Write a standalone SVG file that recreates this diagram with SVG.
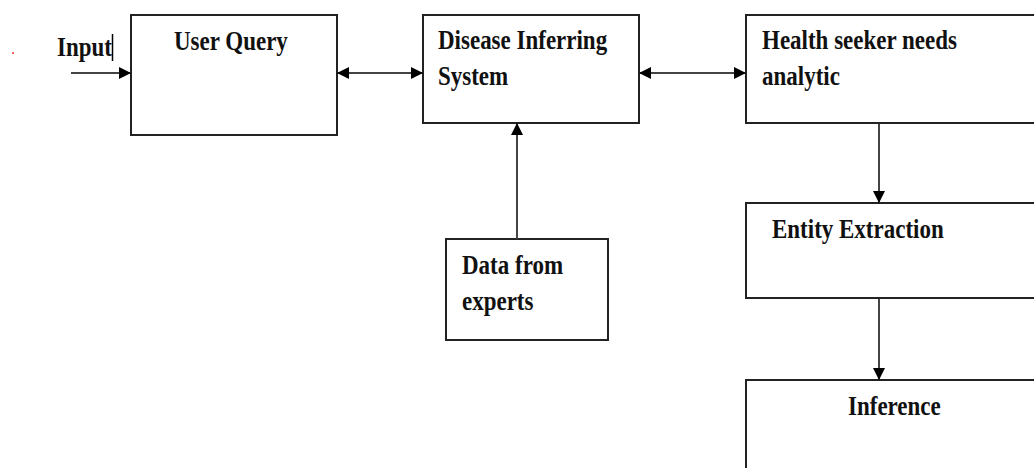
<svg xmlns="http://www.w3.org/2000/svg" width="1034" height="468" viewBox="0 0 1034 468">
<defs>
<style>
.box{fill:#fff;stroke:#222;stroke-width:2}
.t{font-family:"Liberation Serif","Times New Roman",serif;font-weight:bold;font-size:23px;fill:#111}
.c{stroke:#444;stroke-width:2;fill:none}
</style>
<marker id="ah" markerWidth="12" markerHeight="12" viewBox="0 0 12 12" refX="11" refY="6" orient="auto-start-reverse" markerUnits="userSpaceOnUse">
<path d="M0,0 L12,6 L0,12 Z" fill="#000"/>
</marker>
</defs>
<rect width="1034" height="468" fill="#fff"/>
<circle cx="13" cy="53" r="1" fill="#e33"/>
<g id="input-label">
<text class="t" transform="translate(57,56) scale(1,1.15)">Input</text>
<line x1="112.5" y1="34" x2="112.5" y2="61" stroke="#000" stroke-width="1.5"/>
</g>
<g id="user-query">
<rect class="box" x="131" y="15" width="206" height="120"/>
<text class="t" transform="translate(174,50) scale(1,1.15)">User Query</text>
</g>
<g id="disease-inferring">
<rect class="box" x="423" y="15" width="216" height="108"/>
<text class="t" transform="translate(438,49) scale(1,1.15)">Disease Inferring</text>
<text class="t" transform="translate(438,85) scale(1,1.15)">System</text>
</g>
<g id="health-seeker">
<rect class="box" x="746" y="15" width="300" height="108"/>
<text class="t" transform="translate(762,49) scale(1,1.15)">Health seeker needs</text>
<text class="t" transform="translate(762,85) scale(1,1.15)">analytic</text>
</g>
<g id="entity-extraction">
<rect class="box" x="746" y="203" width="300" height="95"/>
<text class="t" transform="translate(772,238) scale(1,1.15)">Entity Extraction</text>
</g>
<g id="inference">
<rect class="box" x="746" y="380" width="300" height="100"/>
<text class="t" transform="translate(848,415) scale(1,1.15)">Inference</text>
</g>
<g id="data-from-experts">
<rect class="box" x="446" y="239" width="162" height="101"/>
<text class="t" transform="translate(462,274) scale(1,1.15)">Data from</text>
<text class="t" transform="translate(462,310) scale(1,1.15)">experts</text>
</g>
<g id="connectors">
<line class="c" x1="71" y1="73" x2="130" y2="73" marker-end="url(#ah)"/>
<line class="c" x1="338" y1="73" x2="422" y2="73" marker-start="url(#ah)" marker-end="url(#ah)"/>
<line class="c" x1="640" y1="73" x2="745" y2="73" marker-start="url(#ah)" marker-end="url(#ah)"/>
<line class="c" x1="517" y1="239" x2="517" y2="124" marker-end="url(#ah)"/>
<line class="c" x1="879" y1="124" x2="879" y2="202" marker-end="url(#ah)"/>
<line class="c" x1="879" y1="299" x2="879" y2="379" marker-end="url(#ah)"/>
</g>
</svg>
